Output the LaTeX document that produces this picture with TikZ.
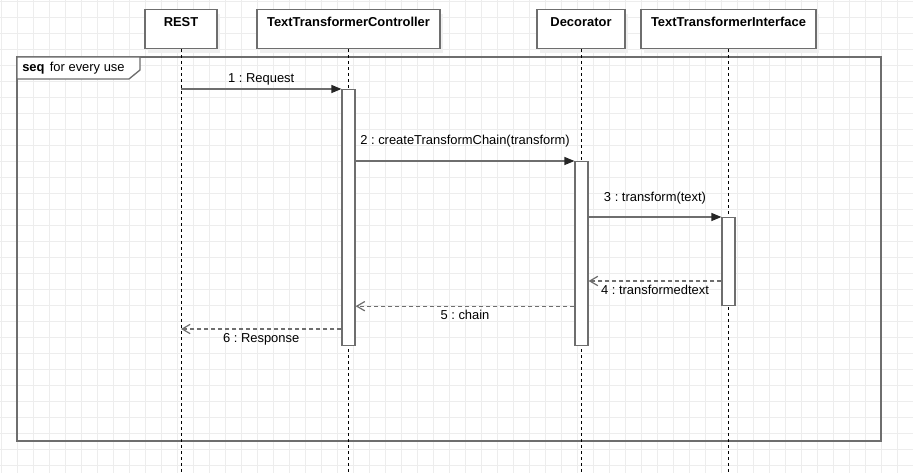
\documentclass[tikz,border=0pt]{standalone}
\usepackage{fontspec}
\setmainfont{Liberation Sans}
\usetikzlibrary{arrows.meta,shadows}
\definecolor{gridgrey}{HTML}{EDEDED}
\definecolor{linegrey}{HTML}{6E6E6E}
\definecolor{shadegrey}{HTML}{F0F0F0}
\frenchspacing

\begin{document}
\begin{tikzpicture}[x=0.75pt,y=-0.75pt,
      font=\fontsize{9.7}{11.5}\selectfont,
      gridline/.style={gridgrey,line width=0.75pt},
      objbox/.style={draw=linegrey,line width=0.9pt,fill=white,anchor=north,
                     inner ysep=0pt,text height=12.4pt,text depth=16.8pt,
                     font=\fontsize{9.7}{11.5}\selectfont\bfseries,
                     drop shadow={shadow xshift=2.25pt,shadow yshift=-3.5pt,
                                  fill=shadegrey,opacity=1}},
      actbox/.style={draw=linegrey,line width=0.9pt,fill=white,anchor=north,
                     minimum width=9.75pt,inner sep=0pt},
      lifeline/.style={black,line width=0.75pt,dash pattern=on 2.25pt off 2.25pt},
      framebox/.style={draw=linegrey,line width=1pt},
      callmsg/.style={draw=linegrey,line width=0.9pt,
                      -{Triangle[length=7.5pt,width=6pt,color=black!85]}},
      replymsg/.style={draw=linegrey,line width=0.9pt,dash pattern=on 3pt off 2.25pt,
                       -{Straight Barb[length=6pt,width=7pt]}},
      lblup/.style={anchor=base,inner sep=0pt,yshift=#1},
      lbldown/.style={anchor=base,inner sep=0pt,yshift=-10pt}]
    % background and grid
    \useasboundingbox[fill=white] (0,0) rectangle (913,473);
    \foreach \gx in {1,17,...,913}
      \draw[gridline] (\gx,0) -- (\gx,473);
    \foreach \gy in {1.7,17.7,...,473}
      \draw[gridline] (0,\gy) -- (913,\gy);

    % combined fragment
    \draw[framebox] (17,57) rectangle (881,441);
    \draw[framebox,fill=white] (17,57) -- (140,57) -- (140,70) -- (129,79)
      -- (17,79) -- cycle;
    \node[anchor=base west,inner sep=0pt] (seqlbl) at (22,72)
      {\textbf{seq}\hspace{4pt}for every use};

    % participants
    \node[objbox,minimum width=54pt] (rest) at (181,9) {REST};
    \node[objbox,minimum width=137.25pt] (ttc) at (348.5,9) {TextTransformerController};
    \node[objbox,minimum width=66pt] (deco) at (581,9) {Decorator};
    \node[objbox,minimum width=131.25pt] (tti) at (728.5,9) {TextTransformerInterface};

    % lifelines
    \coordinate (bottom) at (0,473);
    \draw[lifeline] (rest) -- (rest |- bottom);
    \draw[lifeline] (ttc) -- (ttc |- bottom);
    \draw[lifeline] (deco) -- (deco |- bottom);
    \draw[lifeline] (tti) -- (tti |- bottom);

    % activations
    \node[actbox,minimum height=192pt] (act1) at (348.5,89) {};
    \node[actbox,minimum height=138pt] (act2) at (581.5,161) {};
    \node[actbox,minimum height=66pt] (act3) at (728.5,217) {};

    % messages
    \coordinate (m4) at (0,281);
    \coordinate (m6) at (0,329);
    \draw[callmsg] (rest |- act1.north) -- node[lblup=5pt] {1 : Request} (act1.north west);
    \draw[callmsg] (act1.east |- act2.north) -- node[lblup=12.5pt]
      {2 : createTransformChain(transform)} (act2.north west);
    \draw[callmsg] (act2.east |- act3.north) -- node[lblup=11.8pt]
      {3 : transform(text)} (act3.north west);
    \draw[replymsg] (act3.west |- m4) -- node[lbldown] {4 : transformedtext} (act2.east |- m4);
    \draw[replymsg] (act2.west |- act3.south) -- node[lbldown] {5 : chain} (act1.east |- act3.south);
    \draw[replymsg] (act1.west |- m6) -- node[lbldown] {6 : Response} (rest |- m6);
  \end{tikzpicture}
\end{document}
